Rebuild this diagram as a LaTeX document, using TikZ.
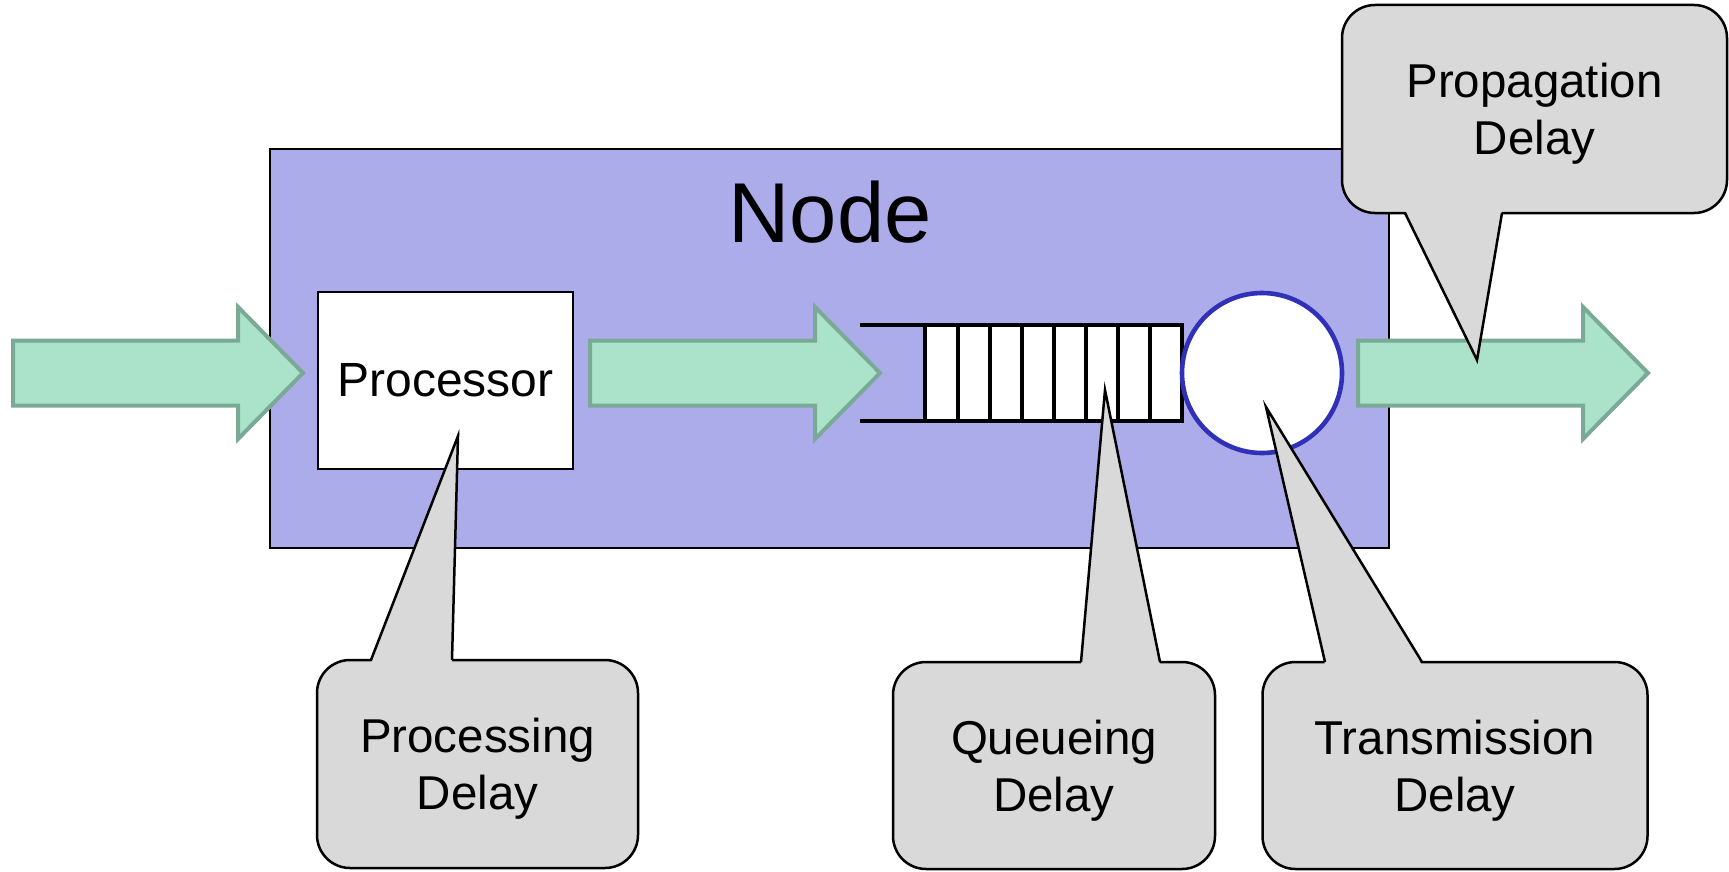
\documentclass[tikz,border=0pt]{standalone}
\usepackage{fontspec}
\setmainfont{Liberation Sans}
\definecolor{nodefill}{HTML}{ACACEA}
\definecolor{arrowfill}{HTML}{AAE3CA}
\definecolor{arrowline}{HTML}{7AAA96}
\definecolor{serverline}{HTML}{3030B8}
\definecolor{calloutfill}{HTML}{D9D9D9}
\tikzset{
  nodebox/.style={draw=black, line width=2pt, fill=nodefill},
  procbox/.style={draw=black, line width=2pt, fill=white, inner sep=0pt,
    font=\fontsize{48}{56}\selectfont},
  server/.style={circle, draw=serverline, line width=4.6pt, fill=white,
    minimum size=160pt, inner sep=0pt},
  qline/.style={line width=4.6pt, line cap=rect},
  callout/.style={draw=black, line width=2.5pt, fill=calloutfill,
    rounded corners=33pt, align=center, inner sep=0pt, text depth=0pt,
    font=\fontsize{47.5}{57}\selectfont},
  pointer/.style={draw=black, line width=2.5pt, line join=miter},
  pics/fatarrow/.style={code={
    \draw[line width=4pt, draw=arrowline, fill=arrowfill, line join=miter]
      (0,-32.5) -- (225,-32.5) -- (225,-66) -- (290,0)
      -- (225,66) -- (225,32.5) -- (0,32.5) -- cycle;
  }},
}
% draws a callout pointer from two base points on a box edge to a tip
\newcommand{\calloutpointer}[4]{%
  \fill[calloutfill] ($(#1)+(0,#4)$) -- (#3) -- ($(#2)+(0,#4)$) -- cycle;
  \draw[pointer] (#1) -- (#3) -- (#2);
}
\usetikzlibrary{calc}
\begin{document}
\begin{tikzpicture}[x=1pt, y=-1pt]
\useasboundingbox (0,0) rectangle (1729,872);

% the network node
\node[nodebox, minimum width=1119pt, minimum height=399pt, inner sep=0pt]
  (node) at (829.5,348.5) {};
\node[anchor=base, font=\fontsize{85}{100}\selectfont, inner sep=0pt]
  (nodetitle) at (830,242) {Node};

% flow arrows
\pic at (13,373) {fatarrow};
\pic at (590,373) {fatarrow};
\pic at (1358,373) {fatarrow};

% processor
\node[procbox, minimum width=255pt, minimum height=177pt]
  (proc) at (445.5,380.5) {Processor};

% output queue
\draw[qline, fill=white] (925,325) rectangle (1182,421);
\foreach \x in {958,990,1022,1054,1086,1118,1150}
  \draw[qline] (\x,325) -- (\x,421);
\coordinate (qtopL) at (862,325);
\coordinate (qbotL) at (862,421);
\draw[qline] (qtopL) -- (925,325);
\draw[qline] (qbotL) -- (925,421);
\coordinate (queue) at (1053,373);

% transmitter
\node[server] (srv) at (1262,373) {};

% callouts
\node[callout, minimum width=321pt, minimum height=208pt]
  (procdelay) at (477.5,764) {Processing\\Delay};
\node[callout, minimum width=322pt, minimum height=207pt]
  (queuedelay) at (1054,765.5) {Queueing\\Delay};
\node[callout, minimum width=385pt, minimum height=207pt]
  (transdelay) at (1455,765.5) {Transmission\\Delay};
\node[callout, minimum width=385pt, minimum height=208pt]
  (propdelay) at (1534.5,109) {Propagation\\Delay};

\coordinate (pA1) at (371,660);  \coordinate (pA2) at (452,660);
\coordinate (pAt) at (458,436);
\coordinate (pB1) at (1081,662); \coordinate (pB2) at (1160,662);
\coordinate (pBt) at (1105,390);
\coordinate (pC1) at (1325,662); \coordinate (pC2) at (1422,662);
\coordinate (pCt) at (1266,407);
\coordinate (pD1) at (1405,213); \coordinate (pD2) at (1502,213);
\coordinate (pDt) at (1477,360);

\calloutpointer{pA1}{pA2}{pAt}{3}
\calloutpointer{pB1}{pB2}{pBt}{3}
\calloutpointer{pC1}{pC2}{pCt}{3}
\calloutpointer{pD1}{pD2}{pDt}{-3}
\end{tikzpicture}
\end{document}
